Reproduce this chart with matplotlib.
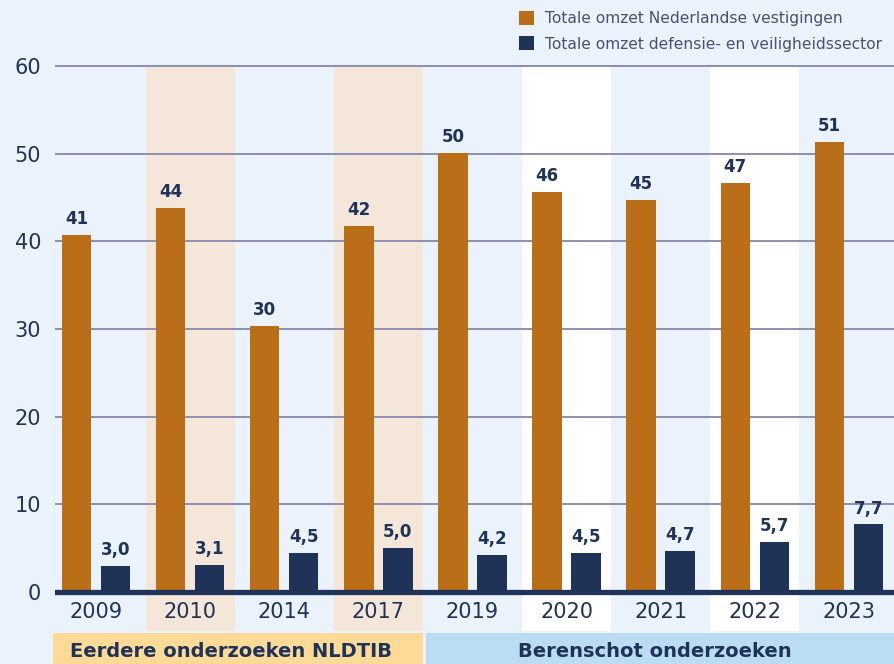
import matplotlib
matplotlib.use("Agg")
import matplotlib.pyplot as plt
from matplotlib.patches import Rectangle, Patch
import numpy as np

# ---- data ----
years = ["2009", "2010", "2014", "2017", "2019", "2020", "2021", "2022", "2023"]
omzet_nl = [40.7, 43.8, 30.3, 41.7, 50.1, 45.6, 44.7, 46.6, 51.3]
omzet_dv = [3.0, 3.1, 4.5, 5.0, 4.2, 4.5, 4.7, 5.7, 7.7]
series_names = ["Totale omzet Nederlandse vestigingen",
                "Totale omzet defensie- en veiligheidssector"]
band_peach = ["2010", "2017"]
band_white = ["2020", "2022"]
groups = [("Eerdere onderzoeken NLDTIB", "2009", "2017"),
          ("Berenschot onderzoeken", "2019", "2023")]

# ---- style ----
BG = "#EAF3FB"
ORANGE = "#B96E17"
NAVY = "#1F3359"
PEACH = "#F5E6DA"
GRID = "#8C8FB0"
BOX1 = "#FDDB97"
BOX2 = "#BBDDF3"
LEG_TXT = "#4A5072"

plt.rcParams["font.family"] = ["DejaVu Sans"]

fig = plt.figure(figsize=(8.95, 6.64), dpi=100, facecolor=BG)
W, H = 895, 664
ax = fig.add_axes([55 / W, (H - 631) / H, 1 - 55 / W, (631 - 60) / H])
ax.set_facecolor(BG)

x = np.arange(len(years))
ymin, ymax = -4.45, 60.68
ax.set_ylim(ymin, ymax)
ax.set_xlim(-0.436, 8.49)

bw = 0.313
off = 0.207
band_w = 0.946

# background bands
for i, yr in enumerate(years):
    if yr in band_peach:
        ax.add_patch(Rectangle((i - band_w / 2, ymin), band_w, 60 - ymin,
                               facecolor=PEACH, edgecolor="none", zorder=0))
    elif yr in band_white:
        ax.add_patch(Rectangle((i - band_w / 2, ymin), band_w, 60 - ymin,
                               facecolor="white", edgecolor="none", zorder=0))

# grid lines
for gv in range(10, 70, 10):
    ax.axhline(gv, color=GRID, lw=1.4, zorder=1)

# bars
ax.bar(x - off, omzet_nl, width=bw, color=ORANGE, zorder=2)
ax.bar(x + off, omzet_dv, width=bw, color=NAVY, zorder=2)

# zero line
ax.axhline(0, color=NAVY, lw=3.8, zorder=3)

# value labels
for xi, v in zip(x, omzet_nl):
    ax.annotate(f"{round(v):d}", (xi - off, v), xytext=(0, 5),
                textcoords="offset points", ha="center", va="bottom",
                fontsize=12, fontweight="bold", color=NAVY, zorder=4)
for xi, v in zip(x, omzet_dv):
    ax.annotate(f"{v:.1f}".replace(".", ","), (xi + off, v), xytext=(0, 5),
                textcoords="offset points", ha="center", va="bottom",
                fontsize=12, fontweight="bold", color=NAVY, zorder=4)

# year labels
for xi, yr in zip(x, years):
    ax.text(xi, -2.3, yr, ha="center", va="center", fontsize=15, color=NAVY)

# y axis
ax.set_yticks(range(0, 70, 10))
ax.set_yticklabels([str(v) for v in range(0, 70, 10)], fontsize=15, color=NAVY)
ax.tick_params(axis="y", length=0, pad=10)
ax.set_xticks([])
for s in ax.spines.values():
    s.set_visible(False)

# group boxes below
colors_box = [BOX1, BOX2]
for k, (label, y0, y1) in enumerate(groups):
    i0 = years.index(y0)
    i1 = years.index(y1)
    if k == 0:
        left, right = i0 - 0.457, i1 + 0.473
        cx = (left + right) / 2 - 0.07
    else:
        left, right = i0 - 0.49, 9.0
        cx = (i0 + i1) / 2 - 0.06
    ax.add_patch(Rectangle((left, -9.5), right - left, 9.5 - 4.68,
                           facecolor=colors_box[k], edgecolor="none",
                           clip_on=False, zorder=0))
    ax.text(cx, -6.75, label, ha="center", va="center", fontsize=14,
            fontweight="bold", color=NAVY, clip_on=False)

# legend
handles = [Patch(facecolor=ORANGE, edgecolor="none"),
           Patch(facecolor=NAVY, edgecolor="none")]
leg = fig.legend(handles, series_names, loc="upper left",
                 bbox_to_anchor=(508 / W, 1 - 0 / H), frameon=False,
                 fontsize=11.2, handlelength=1.0, handleheight=1.0,
                 handletextpad=0.7, labelspacing=0.65, borderaxespad=0.3)
for t in leg.get_texts():
    t.set_color(LEG_TXT)

fig.savefig("out.png", dpi=100, facecolor=BG)
